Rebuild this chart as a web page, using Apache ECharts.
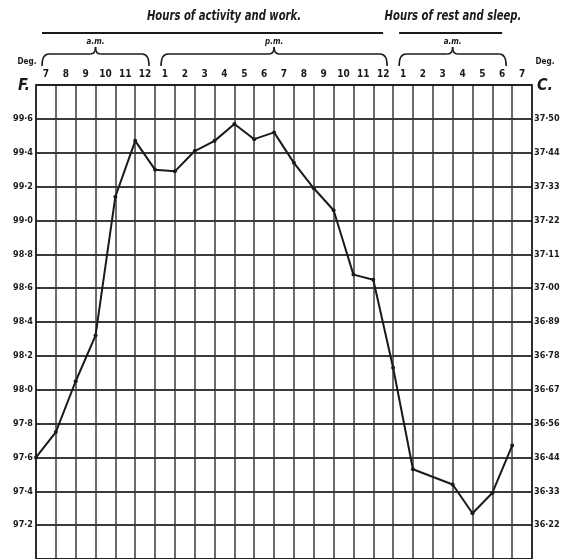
<!DOCTYPE html>
<html>
<head>
<meta charset="utf-8">
<script src="https://cdn.jsdelivr.net/npm/echarts@6/dist/echarts.min.js"></script>
<style>
  html, body { margin: 0; padding: 0; background: #fff; }
  #chart { width: 568px; height: 559px; }
</style>
</head>
<body>
<div id="chart"></div>
<script>
// Hour columns across the day: 7 a.m. through 7 a.m. next morning
const hourLabels = ['7','8','9','10','11','12','1','2','3','4','5','6','7','8','9','10','11','12','1','2','3','4','5','6','7'];

// Body temperature (°F) read at each hour line; the 3 a.m. reading is not marked
const fahrenheit = [97.60, 97.75, 98.05, 98.32, 99.14, 99.47, 99.30, 99.29, 99.41, 99.47,
                    99.57, 99.48, 99.52, 99.34, 99.19, 99.06, 98.68, 98.65, 98.13, 97.53,
                    null, 97.44, 97.27, 97.39, 97.67];

// Fahrenheit scale labels (97·2 .. 99·6) and matching Centigrade labels
const fahrenheitTicks = [97.2, 97.4, 97.6, 97.8, 98.0, 98.2, 98.4, 98.6, 98.8, 99.0, 99.2, 99.4, 99.6];
const celsiusLabels = ['36·22','36·33','36·44','36·56','36·67','36·78','36·89','37·00','37·11','37·22','37·33','37·44','37·50'];

// Grouping of the hour columns
const periodGroups = [
  { label: 'a.m.', from: 0, to: 5 },
  { label: 'p.m.', from: 6, to: 17 },
  { label: 'a.m.', from: 18, to: 23 }
];
const headings = [
  { text: 'Hours of activity and work.', from: 0, to: 17 },
  { text: 'Hours of rest and sleep.', from: 18, to: 23 }
];

const GRID = { left: 36, right: 36, top: 85, bottom: 0 };
const W = 568;
const cell = (W - GRID.left - GRID.right) / hourLabels.length;
const cellX = k => GRID.left + k * cell;

const LABEL_FONT = '"DejaVu Sans Condensed", "DejaVu Sans", sans-serif';
const INK = '#1a1a1a';
const GRIDLINE = '#3a3a3a';

function fmtF(v) {
  return v.toFixed(1).replace('.', '·');
}
function tickIndex(v) {
  const i = Math.round((v - fahrenheitTicks[0]) / 0.2);
  if (Math.abs(v - fahrenheitTicks[0] - i * 0.2) > 0.01) return -1;
  return (i >= 0 && i < fahrenheitTicks.length) ? i : -1;
}

// Narrow bold-italic caption text, squeezed horizontally
function caption(text, x, y, size, sx, style) {
  return {
    type: 'text', x: x, y: y, scaleX: sx,
    style: {
      text: text, x: 0, y: 0, align: 'center', verticalAlign: 'middle',
      font: (style || 'italic bold') + ' ' + size + 'px ' + LABEL_FONT, fill: INK
    }
  };
}

// A curly brace opening downward, drawn from curves and straight runs
function brace(x0, x1, yTop, yEnd, yCusp) {
  const xm = (x0 + x1) / 2;
  const r = 7;
  const st = { stroke: INK, lineWidth: 1.6, fill: null };
  return [
    { type: 'bezierCurve', shape: { x1: x0, y1: yEnd, x2: x0 + r, y2: yTop, cpx1: x0, cpy1: yTop }, style: st },
    { type: 'line', shape: { x1: x0 + r, y1: yTop, x2: xm - 5, y2: yTop }, style: st },
    { type: 'bezierCurve', shape: { x1: xm - 5, y1: yTop, x2: xm, y2: yCusp, cpx1: xm, cpy1: yTop }, style: st },
    { type: 'bezierCurve', shape: { x1: xm, y1: yCusp, x2: xm + 5, y2: yTop, cpx1: xm, cpy1: yTop }, style: st },
    { type: 'line', shape: { x1: xm + 5, y1: yTop, x2: x1 - r, y2: yTop }, style: st },
    { type: 'bezierCurve', shape: { x1: x1 - r, y1: yTop, x2: x1, y2: yEnd, cpx1: x1, cpy1: yTop }, style: st }
  ];
}

const graphics = [];
headings.forEach(h => {
  const x0 = cellX(h.from) + 6;
  const x1 = cellX(h.to + 1) - 10;
  const cx = h.from === 0 ? 224 : 453;
  graphics.push(caption(h.text, cx, 16, 14, 0.8));
  graphics.push({
    type: 'line',
    shape: { x1: x0, y1: 33, x2: x1, y2: 33 },
    style: { stroke: INK, lineWidth: 2 }
  });
});
periodGroups.forEach(g => {
  const x0 = cellX(g.from) + 6;
  const x1 = cellX(g.to + 1) - 6;
  brace(x0, x1, 54, 66, 47).forEach(e => graphics.push(e));
  graphics.push(caption(g.label, (x0 + x1) / 2, 42, 8, 1));
});
// Scale captions at both sides
graphics.push(caption('Deg.', 27, 62, 9, 0.9, 'bold'));
graphics.push(caption('F.', 24, 86, 16, 1));
graphics.push(caption('Deg.', 545, 62, 9, 0.9, 'bold'));
graphics.push(caption('C.', 545, 86, 16, 1));

const chart = echarts.init(document.getElementById('chart'), null, { renderer: 'canvas' });

chart.setOption({
  animation: false,
  backgroundColor: '#fff',
  grid: { left: GRID.left, right: GRID.right, top: GRID.top, bottom: GRID.bottom, containLabel: false },
  xAxis: [
    {
      type: 'category',
      data: hourLabels,
      position: 'top',
      boundaryGap: true,
      axisLine: { show: true, lineStyle: { color: INK, width: 1.5 } },
      axisTick: { show: false },
      axisLabel: { interval: 0, margin: 6, color: INK, fontFamily: LABEL_FONT, fontWeight: 'bold', fontSize: 10 },
      splitLine: { show: false }
    },
    {
      type: 'category',
      data: hourLabels.concat(['']),
      position: 'bottom',
      boundaryGap: false,
      axisLine: { show: true, lineStyle: { color: INK, width: 1.5 } },
      axisTick: { show: false },
      axisLabel: { show: false },
      splitLine: { show: true, interval: 0, lineStyle: { color: GRIDLINE, width: 1.5 } }
    }
  ],
  yAxis: [
    {
      type: 'value',
      min: 97.0, max: 99.8, interval: 0.2,
      position: 'left',
      axisLine: { show: true, lineStyle: { color: INK, width: 1.5 } },
      axisTick: { show: false },
      axisLabel: {
        margin: 3, color: INK, fontFamily: LABEL_FONT, fontWeight: 'bold', fontSize: 9,
        formatter: v => tickIndex(v) >= 0 ? fmtF(fahrenheitTicks[tickIndex(v)]) : ''
      },
      splitLine: { show: true, lineStyle: { color: GRIDLINE, width: 2 } }
    },
    {
      type: 'value',
      min: 97.0, max: 99.8, interval: 0.2,
      position: 'right',
      axisLine: { show: true, lineStyle: { color: INK, width: 1.5 } },
      axisTick: { show: false },
      axisLabel: {
        margin: 2, color: INK, fontFamily: LABEL_FONT, fontWeight: 'bold', fontSize: 9,
        formatter: v => tickIndex(v) >= 0 ? celsiusLabels[tickIndex(v)] : ''
      },
      splitLine: { show: false }
    }
  ],
  series: [
    {
      type: 'line',
      xAxisIndex: 1,
      yAxisIndex: 0,
      data: fahrenheit,
      connectNulls: true,
      symbol: 'circle',
      symbolSize: 4,
      itemStyle: { color: INK },
      lineStyle: { color: INK, width: 2 }
    }
  ],
  graphic: graphics
});
</script>
</body>
</html>
